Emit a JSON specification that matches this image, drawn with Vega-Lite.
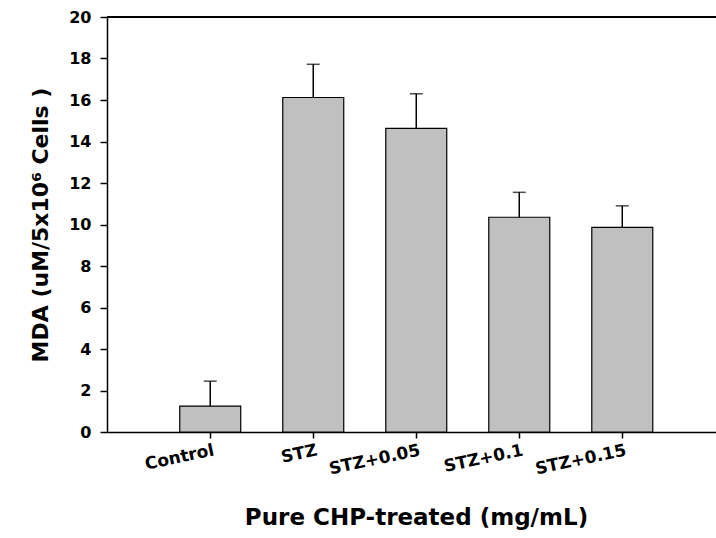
{
  "$schema": "https://vega.github.io/schema/vega-lite/v6.json",
  "autosize": "none",
  "width": 609,
  "height": 415,
  "padding": {"left": 107, "top": 17, "right": 0, "bottom": 106},
  "background": "white",
  "config": {
    "view": {"stroke": null},
    "font": "DejaVu Sans",
    "axis": {
      "domainColor": "black",
      "domainWidth": 1.5,
      "tickColor": "black",
      "tickWidth": 1.5,
      "tickSize": 7,
      "labelColor": "black",
      "labelFont": "DejaVu Sans",
      "labelFontWeight": "bold",
      "labelFontSize": 16,
      "titleColor": "black",
      "titleFont": "DejaVu Sans",
      "titleFontWeight": "bold",
      "titleFontSize": 22,
      "grid": false
    }
  },
  "data": {
    "values": [
      {"group": "Control", "mean": 1.25, "upper": 2.45},
      {"group": "STZ", "mean": 16.12, "upper": 17.72},
      {"group": "STZ+0.05", "mean": 14.63, "upper": 16.3},
      {"group": "STZ+0.1", "mean": 10.35, "upper": 11.55},
      {"group": "STZ+0.15", "mean": 9.86, "upper": 10.9}
    ]
  },
  "layer": [
    {
      "mark": {"type": "bar", "fill": "#c0c0c0", "stroke": "black", "strokeWidth": 1.2},
      "encoding": {
        "x": {
          "field": "group",
          "type": "nominal",
          "sort": null,
          "scale": {"paddingInner": 0.408, "paddingOuter": 0.66, "align": 0.535},
          "axis": {
            "title": "Pure CHP-treated (mg/mL)",
            "titleFontSize": 23,
            "titlePadding": 30,
            "titleX": 309,
            "tickSize": 6,
            "labelAngle": -12,
            "labelAlign": "right",
            "labelBaseline": "top",
            "labelPadding": 4,
            "labelOffset": 2,
            "labelFontSize": 17
          }
        },
        "y": {
          "field": "mean",
          "type": "quantitative",
          "scale": {"domain": [0, 20], "nice": false, "zero": true},
          "axis": {
            "title": "MDA (uM/5x10⁶ Cells )",
            "titlePadding": 16,
            "values": [0, 2, 4, 6, 8, 10, 12, 14, 16, 18, 20],
            "labelPadding": 9
          }
        }
      }
    },
    {
      "mark": {"type": "rule", "color": "black", "strokeWidth": 1.5},
      "encoding": {
        "x": {"field": "group", "type": "nominal", "sort": null},
        "y": {"field": "mean", "type": "quantitative"},
        "y2": {"field": "upper"}
      }
    },
    {
      "mark": {"type": "tick", "color": "black", "size": 13, "thickness": 1.5},
      "encoding": {
        "x": {"field": "group", "type": "nominal", "sort": null},
        "y": {"field": "upper", "type": "quantitative"}
      }
    },
    {
      "mark": {"type": "rule", "color": "black", "strokeWidth": 1.5},
      "encoding": {"y": {"datum": 20}}
    }
  ]
}
